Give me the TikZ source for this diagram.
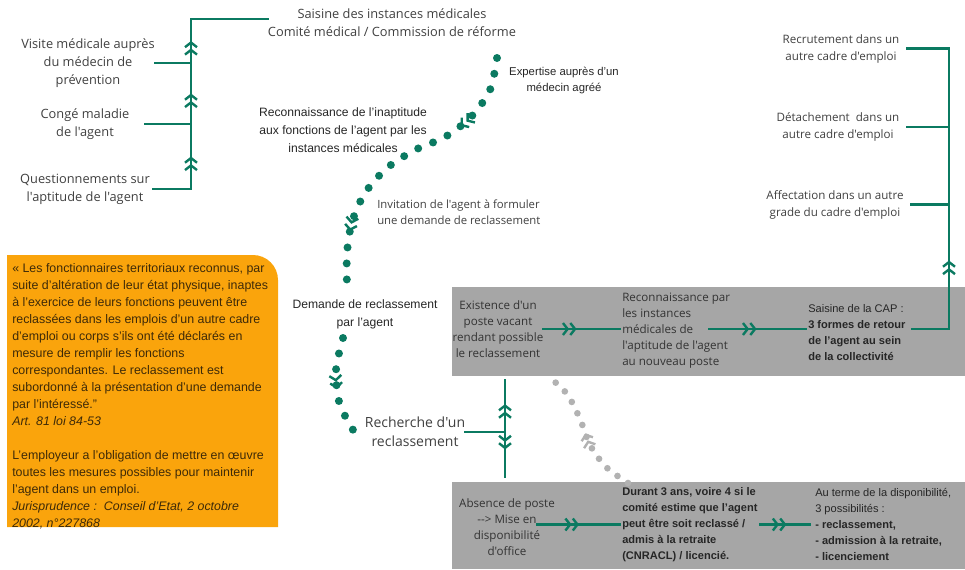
\documentclass[tikz,border=0pt]{standalone}
\usepackage{fontspec}
\setmainfont{Liberation Sans}
\newfontfamily\raleway{Open Sans}
\usetikzlibrary{arrows.meta,decorations.markings}
\definecolor{vert}{RGB}{11,122,97}
\definecolor{grisbloc}{RGB}{166,166,166}
\definecolor{grispoint}{RGB}{178,178,178}
\definecolor{orangebloc}{RGB}{250,164,12}
\definecolor{brun}{RGB}{62,42,8}
\definecolor{gristexte}{RGB}{64,64,64}
\begin{document}
\begin{tikzpicture}[x=0.75pt,y=-0.75pt,
	dblchev/.tip={Straight Barb[length=3.5pt,width=9pt,line width=1.8pt]Straight Barb[length=3.5pt,width=9pt,line width=1.8pt]},
	lien/.style={draw=vert,line width=2pt,line cap=rect},
	chevmid/.style={postaction={decorate,solid},decoration={markings,mark=at position #1 with {\arrow{dblchev}}}},
	chevmid/.default=0.5,
	ptvert/.style={draw=vert,line width=6pt,line cap=round,dash pattern=on 0pt off 12pt},
	ptgris/.style={draw=grispoint,line width=5pt,line cap=round,dash pattern=on 0pt off 9.5pt},
	etiq/.style={font=\raleway\fontsize{9.6}{13.5}\selectfont,text=gristexte,align=center,inner sep=0pt},
	etiqd/.style={font=\raleway\fontsize{8.7}{12.75}\selectfont,text=gristexte,align=center,inner sep=0pt},
	note/.style={font=\fontsize{9.1}{13.5}\selectfont,text=black!85,align=center,inner sep=0pt},
	bloc/.style={fill=grisbloc,minimum width=384.75pt,inner sep=0pt},
	txtbloc/.style={font=\raleway\fontsize{8.7}{12}\selectfont,text=black!80,inner sep=0pt},
	arlbloc/.style={font=\fontsize{8.3}{12}\selectfont,text=black!85,inner sep=0pt,align=left,anchor=west}]
	\useasboundingbox (0,0) rectangle (965,569);
	%Cadre orange
	\fill[orangebloc] (7,527) -- (7,255) -- (253,255) arc[start angle=-90,end angle=0,radius=25] -- (278,527) -- cycle;
	\node[font=\fontsize{9.3}{12.75}\selectfont,text=brun,align=left,inner sep=0pt,anchor=west] (citation) at (12,396)
		{« Les fonctionnaires territoriaux reconnus, par\\
		suite d'altération de leur état physique, inaptes\\
		à l'exercice de leurs fonctions peuvent être\\
		reclassées dans les emplois d'un autre cadre\\
		d'emploi ou corps s'ils ont été déclarés en\\
		mesure de remplir les fonctions\\
		correspondantes. Le reclassement est\\
		subordonné à la présentation d'une demande\\
		par l'intéressé."\\
		\textit{Art. 81 loi 84-53}\\[12.75pt]
		L'employeur a l'obligation de mettre en œuvre\\
		toutes les mesures possibles pour maintenir\\
		l'agent dans un emploi.\\
		\textit{Jurisprudence :\ \ Conseil d'Etat, 2 octobre}\\
		\textit{2002, n°227868}};
	%Blocs gris
	\node[bloc,minimum height=66.75pt] (boxposte) at (708.5,331.5) {};
	\node[bloc,minimum height=65.25pt] (boxabs) at (708.5,525.5) {};
	%Colonne gauche
	\node[etiq] (saisine) at (392,23) {Saisine des instances médicales\\Comité médical / Commission de réforme};
	\node[etiq] (visite) at (88,63) {Visite médicale auprès\\du médecin de\\prévention};
	\node[etiq] (conge) at (85,124) {Congé maladie\\de l'agent};
	\node[etiq] (quest) at (85,189) {Questionnements sur\\l'aptitude de l'agent};
	\coordinate (ltop) at (191,19);
	\draw[lien,shorten <=2.5pt] (quest.east) -- (quest.east -| ltop);
	\draw[lien,shorten <=12pt] (conge.east) -- (conge.east -| ltop);
	\draw[lien] (visite.east) -- (visite.east -| ltop);
	\draw[lien,chevmid] (quest.east -| ltop) -- (conge.east -| ltop);
	\draw[lien,chevmid] (conge.east -| ltop) -- (visite.east -| ltop);
	\draw[lien,chevmid] (visite.east -| ltop) -- (ltop);
	\draw[lien] (ltop) -- (ltop -| saisine.west);
	%Etapes du milieu
	\node[note,font=\fontsize{8.5}{12}\selectfont] (expertise) at (564,80) {Expertise auprès d'un\\médecin agréé};
	\node[note] (inapt) at (343,130) {Reconnaissance de l'inaptitude\\aux fonctions de l'agent par les\\instances médicales};
	\node[etiq,font=\raleway\fontsize{8.5}{12}\selectfont,align=left,anchor=west] (invitation) at (377,212) {Invitation de l'agent à formuler\\une demande de reclassement};
	\node[note] (demande) at (365,314) {Demande de reclassement\\par l'agent};
	\node[etiq,font=\raleway\fontsize{10.5}{14.25}\selectfont] (recherche) at (415,432) {Recherche d'un\\reclassement};
	%Pointilles
	\coordinate (dA) at (497,58);
	\coordinate (dB) at (347,287);
	\coordinate (dC) at (343,338);
	\coordinate (dD) at (358,438);
	\draw[ptvert,postaction={decorate,solid},decoration={markings,
		mark=at position 0.27 with {\arrow{dblchev}},
		mark=at position 0.81 with {\arrow{dblchev}}}]
		plot[smooth] coordinates {(dA) (490,90) (471,117) (445,137) (415,150) (387,168) (365,193) (352,222) (347,253) (dB)};
	\draw[ptvert,chevmid=0.49] plot[smooth] coordinates {(dC) (336,370) (340,405) (dD)};
	\coordinate (gA) at (628,483);
	\coordinate (gB) at (548,376);
	\draw[ptgris,chevmid=0.49] plot[smooth] coordinates {(gA) (606,467) (590,445) (580,419) (567,394) (gB)};
	%Recherche vers blocs
	\coordinate (mj) at (505,432);
	\draw[lien] (recherche.east) -- (mj);
	\draw[lien,chevmid,shorten >=3pt] (mj) -- (mj |- boxposte.south);
	\draw[lien,chevmid=0.35,shorten >=4pt] (mj) -- (mj |- boxabs.north);
	%Bloc 1
	\node[txtbloc,align=center] (existe) at (498,329) {Existence d'un\\poste vacant\\rendant possible\\le reclassement};
	\node[txtbloc,align=left,anchor=west] (reconpost) at (622,331) {Reconnaissance par\\les instances\\médicales de\\l'aptitude de l'agent\\au nouveau poste};
	\node[arlbloc] (cap) at (808,333) {Saisine de la CAP :\\\textbf{3 formes de retour}\\\textbf{de l'agent au sein}\\\textbf{de la collectivité}};
	\coordinate (r2) at ([xshift=-16pt]reconpost.east);
	\draw[lien,chevmid=0.42,shorten >=2pt] (existe.east) -- (existe.east -| reconpost.west);
	\draw[lien,chevmid=0.48,shorten >=2pt] (r2 |- existe.east) -- (existe.east -| cap.west);
	%Colonne droite
	\node[etiqd] (recrut) at (841,48.5) {Recrutement dans un\\autre cadre d'emploi};
	\node[etiqd] (detach) at (838,127) {Détachement\ \ dans un\\autre cadre d'emploi};
	\node[etiqd] (affect) at (835,204.5) {Affectation dans un autre\\grade du cadre d'emploi};
	\coordinate (rtop) at (949,48.5);
	\draw[lien,shorten <=5pt] (cap.east |- existe.east) -- (existe.east -| rtop);
	\draw[lien,chevmid=0.55] (existe.east -| rtop) -- (affect.east -| rtop);
	\draw[lien] (affect.east -| rtop) -- (rtop);
	\draw[lien,shorten <=6pt] (recrut.east) -- (recrut.east -| rtop);
	\draw[lien,shorten <=6pt] (detach.east) -- (detach.east -| rtop);
	\draw[lien,shorten <=6pt] (affect.east) -- (affect.east -| rtop);
	%Bloc 2
	\node[txtbloc,align=center] (absence) at (507,527) {Absence de poste\\-{}-{}> Mise en\\disponibilité\\d'office};
	\node[arlbloc,font=\bfseries\fontsize{8.3}{12}\selectfont] (durant) at (622,524.5) {Durant 3 ans, voire 4 si le\\comité estime que l'agent\\peut être soit reclassé /\\admis à la retraite\\(CNRACL) / licencié.};
	\node[arlbloc] (terme) at (815,524.5) {Au terme de la disponibilité,\\3 possibilités :\\\textbf{- reclassement,}\\\textbf{- admission à la retraite,}\\\textbf{- licenciement}};
	\coordinate (a1) at ([xshift=-13pt]absence.east);
	\draw[lien,chevmid=0.49,shorten >=2pt] (a1 |- durant.west) -- (durant.west);
	\draw[lien,chevmid=0.5,shorten <=2pt,shorten >=4pt] (durant.east) -- (durant.east -| terme.west);
\end{tikzpicture}
\end{document}
